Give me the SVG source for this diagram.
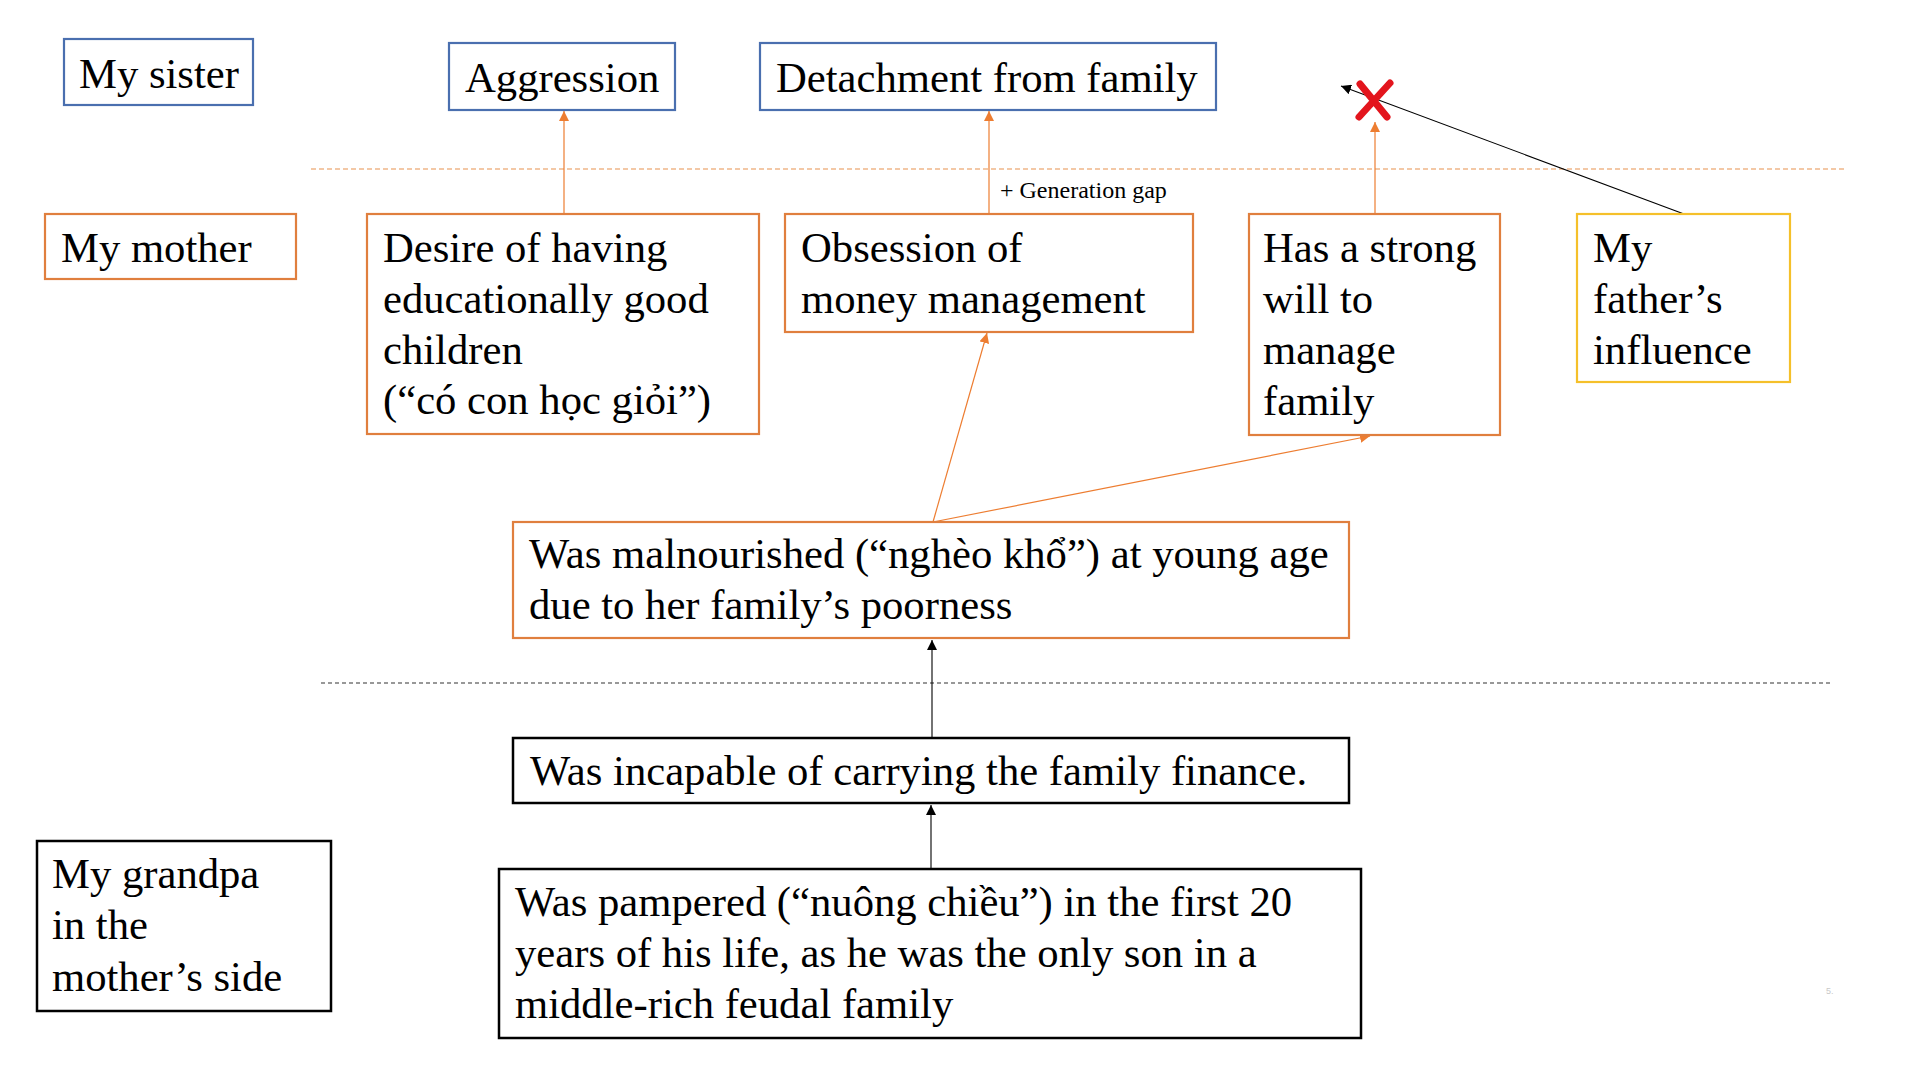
<svg xmlns="http://www.w3.org/2000/svg" width="1920" height="1080" viewBox="0 0 1920 1080">
<style>
  .t { font-family: "Liberation Serif", "Times New Roman", serif; font-size: 42.67px; fill: #000; }
  .small { font-family: "Liberation Serif", "Times New Roman", serif; font-size: 24px; fill: #000; }
  .blue { fill: #fff; stroke: #4A6FAF; stroke-width: 2.2; }
  .orange { fill: #fff; stroke: #E07F3E; stroke-width: 2.2; }
  .yellow { fill: #fff; stroke: #F5C02A; stroke-width: 2.2; }
  .black { fill: #fff; stroke: #000; stroke-width: 2.5; }
  .oc { fill: none; stroke: #ED7D31; stroke-width: 1.2; }
  .bc { fill: none; stroke: #000; stroke-width: 1.1; }
  .odash { fill: none; stroke: #E8924F; stroke-width: 1.2; stroke-dasharray: 5 3; }
  .bdash { fill: none; stroke: #333; stroke-width: 1.2; stroke-dasharray: 4 3; }
</style>
<defs>
  <marker id="ao" markerUnits="userSpaceOnUse" markerWidth="10" markerHeight="10" refX="10" refY="5" orient="auto">
    <path d="M0,0 L10,5 L0,10 z" fill="#ED7D31"/>
  </marker>
  <marker id="ab" markerUnits="userSpaceOnUse" markerWidth="10" markerHeight="10" refX="10" refY="5" orient="auto">
    <path d="M0,0 L10,5 L0,10 z" fill="#000"/>
  </marker>
</defs>
<rect width="1920" height="1080" fill="#fff"/>

<g id="separators">
  <line class="odash" x1="311" y1="169" x2="1847" y2="169"/>
  <line class="bdash" x1="321" y1="683" x2="1832" y2="683"/>
</g>

<g id="connectors">
  <line class="oc" x1="564" y1="214" x2="564" y2="111" marker-end="url(#ao)"/>
  <line class="oc" x1="989" y1="214" x2="989" y2="111" marker-end="url(#ao)"/>
  <line class="oc" x1="1375" y1="214" x2="1375" y2="122" marker-end="url(#ao)"/>
  <line class="bc" x1="1684" y1="214" x2="1341" y2="86" marker-end="url(#ab)"/>
  <line class="oc" x1="933" y1="522" x2="987" y2="333" marker-end="url(#ao)"/>
  <line class="oc" x1="933" y1="522" x2="1370" y2="436" marker-end="url(#ao)"/>
  <line class="bc" x1="932" y1="738" x2="932" y2="640" marker-end="url(#ab)"/>
  <line class="bc" x1="931" y1="869" x2="931" y2="805" marker-end="url(#ab)"/>
  <text class="small" x="1000" y="198">+ Generation gap</text>
</g>

<g id="cross">
  <path d="M1360,84 L1387,117 M1390,83 L1359,117" stroke="#E3151D" stroke-width="7" stroke-linecap="round" fill="none"/>
</g>

<g id="my-sister">
  <rect class="blue" x="64" y="39" width="189" height="66"/>
  <text class="t" x="79" y="88">My sister</text>
</g>
<g id="aggression">
  <rect class="blue" x="449" y="43" width="226" height="67"/>
  <text class="t" x="465" y="92">Aggression</text>
</g>
<g id="detachment">
  <rect class="blue" x="760" y="43" width="456" height="67"/>
  <text class="t" x="776" y="92">Detachment from family</text>
</g>

<g id="my-mother">
  <rect class="orange" x="45" y="214" width="251" height="65"/>
  <text class="t" x="61" y="262">My mother</text>
</g>
<g id="desire">
  <rect class="orange" x="367" y="214" width="392" height="220"/>
  <text class="t" x="383" y="262">Desire of having</text>
  <text class="t" x="383" y="313">educationally good</text>
  <text class="t" x="383" y="364">children</text>
  <text class="t" x="383" y="414">(“có con học giỏi”)</text>
</g>
<g id="obsession">
  <rect class="orange" x="785" y="214" width="408" height="118"/>
  <text class="t" x="801" y="262">Obsession of</text>
  <text class="t" x="801" y="313">money management</text>
</g>
<g id="strong-will">
  <rect class="orange" x="1249" y="214" width="251" height="221"/>
  <text class="t" x="1263" y="262">Has a strong</text>
  <text class="t" x="1263" y="313">will to</text>
  <text class="t" x="1263" y="364">manage</text>
  <text class="t" x="1263" y="415">family</text>
</g>
<g id="father">
  <rect class="yellow" x="1577" y="214" width="213" height="168"/>
  <text class="t" x="1593" y="262">My</text>
  <text class="t" x="1593" y="313">father’s</text>
  <text class="t" x="1593" y="364">influence</text>
</g>
<g id="malnourished">
  <rect class="orange" x="513" y="522" width="836" height="116"/>
  <text class="t" x="529" y="568">Was malnourished (“nghèo khổ”) at young age</text>
  <text class="t" x="529" y="619">due to her family’s poorness</text>
</g>

<g id="incapable">
  <rect class="black" x="513" y="738" width="836" height="65"/>
  <text class="t" x="530" y="785">Was incapable of carrying the family finance.</text>
</g>
<g id="pampered">
  <rect class="black" x="499" y="869" width="862" height="169"/>
  <text class="t" x="515" y="916">Was pampered (“nuông chiều”) in the first 20</text>
  <text class="t" x="515" y="967">years of his life, as he was the only son in a</text>
  <text class="t" x="515" y="1018">middle-rich feudal family</text>
</g>
<g id="grandpa">
  <rect class="black" x="37" y="841" width="294" height="170"/>
  <text class="t" x="52" y="888">My grandpa</text>
  <text class="t" x="52" y="939">in the</text>
  <text class="t" x="52" y="991">mother’s side</text>
</g>

<text x="1826" y="994" font-family="Liberation Sans, Arial, sans-serif" font-size="9" fill="#c8c8c8">5.</text>
</svg>
